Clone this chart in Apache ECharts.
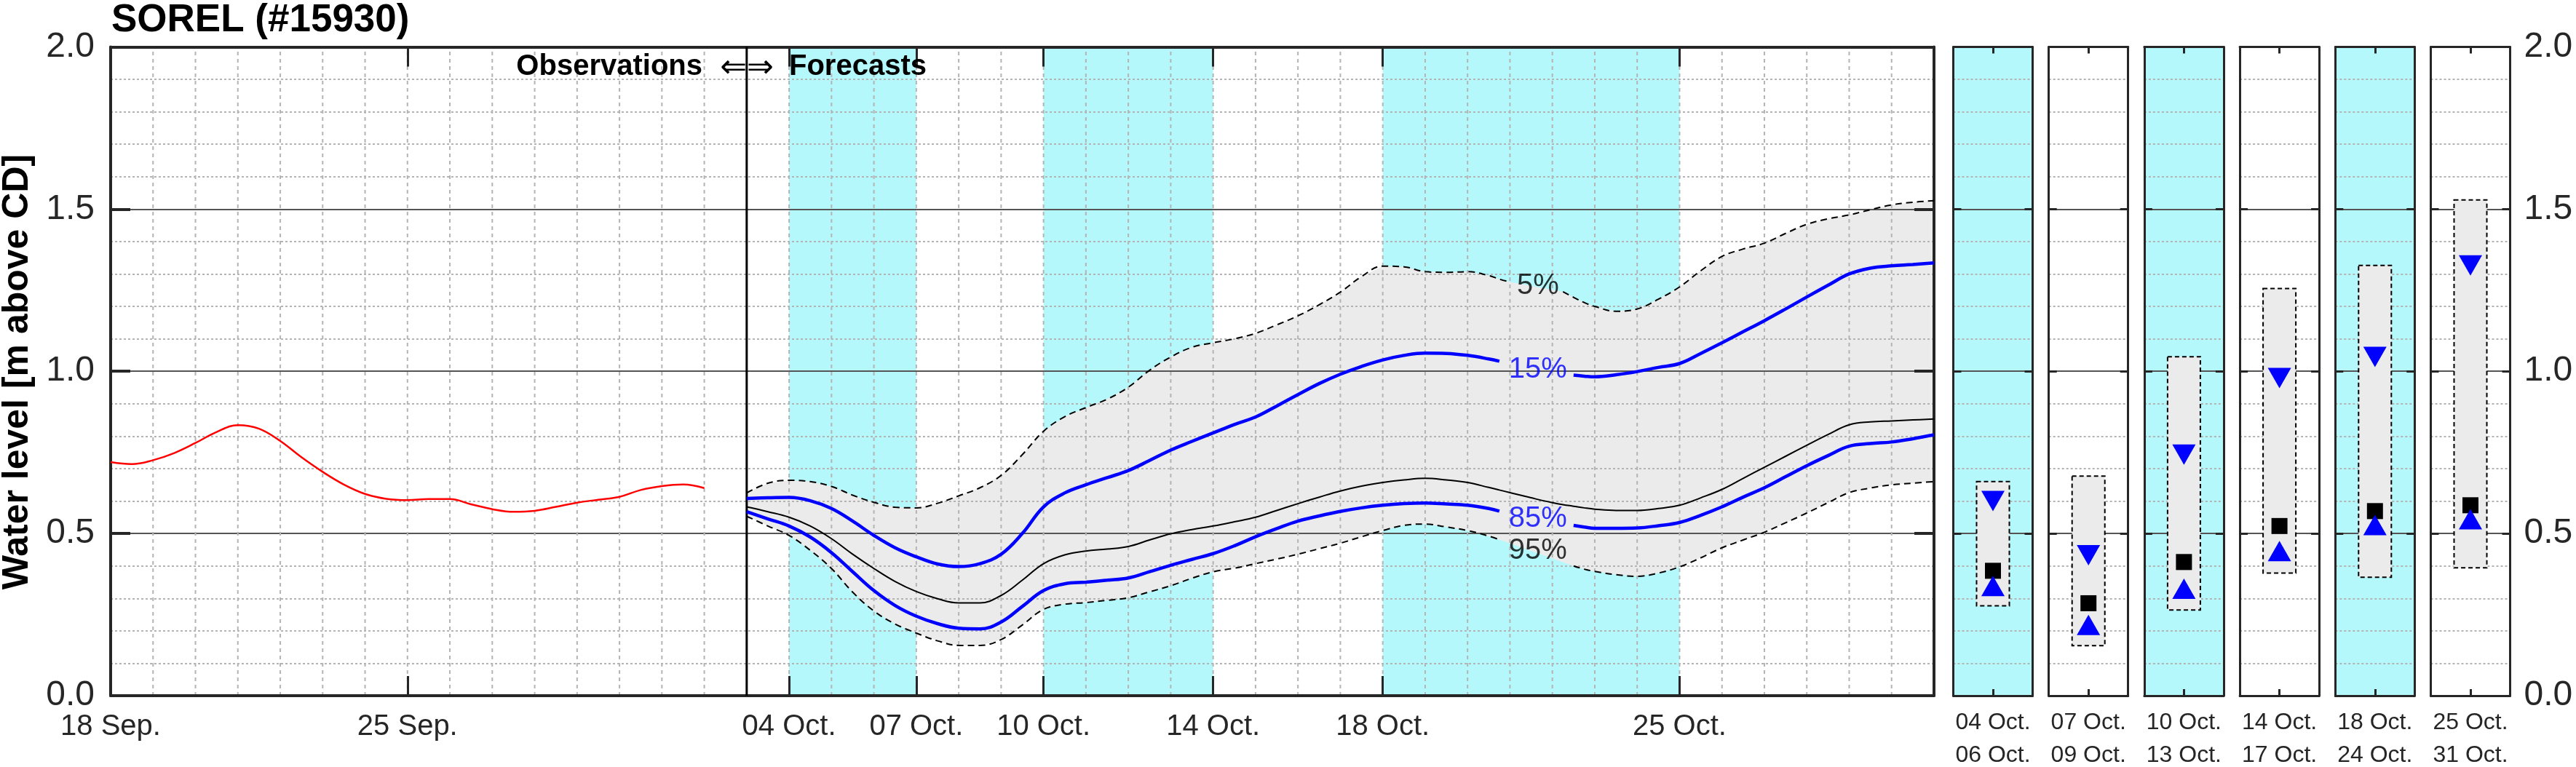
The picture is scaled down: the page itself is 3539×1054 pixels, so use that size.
<!DOCTYPE html>
<html>
<head>
<meta charset="utf-8">
<script src="https://cdn.jsdelivr.net/npm/echarts@6/dist/echarts.min.js"></script>
<style>html,body{margin:0;padding:0;background:#fff}#c{width:3539px;height:1054px}</style>
</head>
<body>
<div id="c"></div>
<script>
// ---------------- data ----------------
const TITLE = 'SOREL (#15930)';
const Y_NAME = 'Water level [m above CD]';
const NOTE_LEFT = 'Observations';
const NOTE_ARROW = '\u21D0\u21D2';
const NOTE_RIGHT = 'Forecasts';

// x = days since 18 Sep.
const X_MAX = 43;
const DATE_TICKS = [0, 7, 16, 19, 22, 26, 30, 37];
const DATE_LABELS = ['18 Sep.', '25 Sep.', '04 Oct.', '07 Oct.', '10 Oct.', '14 Oct.', '18 Oct.', '25 Oct.'];
const Y_TICKS = [0, 0.5, 1, 1.5, 2];
const FORECAST_START = 15;
const SHADE_BANDS = [[16, 19], [22, 26], [30, 37]];

const OBS_DAYS = [0,0.5,1,1.5,2,2.5,3,3.5,4,4.5,5,5.5,6,6.5,7,7.5,8,8.5,9,9.5,10,10.5,11,11.5,12,12.5,13,13.5,14];
const OBS_LEVEL = [0.720,0.714,0.726,0.748,0.779,0.813,0.834,0.823,0.785,0.735,
  0.690,0.651,0.622,0.607,0.603,0.606,0.606,0.590,0.575,0.567,
  0.570,0.582,0.595,0.604,0.613,0.634,0.646,0.651,0.640];

const FC_DAYS = [15,15.5,16,16.5,17,17.5,18,18.5,19,19.5,20,20.5,21,21.5,22,22.5,23,23.5,24,24.5,
  25,25.5,26,26.5,27,27.5,28,28.5,29,29.5,30,30.5,31,31.5,32,32.5,32.75,33,33.25,33.5,
  33.75,34,34.25,34.5,34.75,35,35.5,36,36.5,37,37.5,38,38.5,39,39.5,40,40.5,41,41.5,42,42.5,43];
const P05 = [0.625,0.655,0.664,0.660,0.645,0.618,0.596,0.581,0.579,0.593,
  0.616,0.641,0.679,0.743,0.815,0.860,0.888,0.914,0.951,1.003,
  1.044,1.074,1.088,1.100,1.117,1.143,1.171,1.205,1.244,1.292,
  1.324,1.322,1.307,1.305,1.307,1.295,1.284,1.275,null,null,
  null,null,1.245,1.228,1.212,1.200,1.185,1.192,1.222,1.260,
  1.310,1.354,1.377,1.395,1.425,1.453,1.470,1.482,1.498,1.513,
  1.521,1.526];
const P15 = [0.608,0.610,0.611,0.601,0.577,0.538,0.494,0.456,0.428,0.406,
  0.398,0.407,0.436,0.500,0.582,0.625,0.650,0.672,0.694,0.725,
  0.757,0.784,0.810,0.836,0.859,0.893,0.928,0.962,0.991,1.015,
  1.035,1.049,1.056,1.055,1.049,1.038,1.031,null,null,null,
  null,null,null,0.988,0.985,0.983,0.989,0.999,1.012,1.024,
  1.055,1.088,1.122,1.156,1.192,1.229,1.265,1.300,1.318,1.325,
  1.329,1.334];
const P50 = [0.582,0.567,0.550,0.523,0.484,0.436,0.392,0.352,0.321,0.299,
  0.286,0.286,0.309,0.356,0.407,0.434,0.446,0.452,0.460,0.480,
  0.499,0.512,0.523,0.536,0.550,0.571,0.592,0.612,0.631,0.646,
  0.657,0.665,0.670,0.665,0.657,0.642,0.634,0.626,0.618,0.610,
  0.602,0.595,0.589,0.584,0.579,0.575,0.571,0.571,0.577,0.587,
  0.610,0.636,0.670,0.704,0.738,0.772,0.805,0.835,0.844,0.847,
  0.850,0.853];
const P85 = [0.567,0.545,0.523,0.489,0.441,0.382,0.324,0.278,0.245,0.222,
  0.208,0.206,0.227,0.275,0.324,0.345,0.350,0.356,0.363,0.382,
  0.402,0.420,0.438,0.462,0.490,0.515,0.538,0.554,0.568,0.579,
  0.587,0.592,0.594,0.591,0.587,0.577,0.569,null,null,null,
  null,null,null,0.525,0.520,0.516,0.516,0.517,0.524,0.534,
  0.556,0.582,0.612,0.641,0.675,0.709,0.740,0.769,0.777,0.782,
  0.792,0.804];
const P95 = [0.553,0.523,0.494,0.448,0.392,0.319,0.261,0.221,0.193,0.169,
  0.155,0.155,0.173,0.218,0.266,0.282,0.287,0.294,0.302,0.320,
  0.339,0.362,0.382,0.393,0.407,0.421,0.436,0.453,0.470,0.490,
  0.509,0.525,0.529,0.520,0.509,0.492,0.481,null,null,null,
  null,null,null,0.400,0.390,0.383,0.373,0.368,0.378,0.397,
  0.425,0.456,0.480,0.504,0.533,0.563,0.595,0.626,0.640,0.650,
  0.655,0.660];

const PCT_LABELS = ['5%', '15%', '85%', '95%'];
const PCT_DAY = [33.66, 33.66, 33.66, 33.66];
const PCT_LEVEL = [1.263, 1.005, 0.545, 0.446];

const WIN_START = ['04 Oct.', '07 Oct.', '10 Oct.', '14 Oct.', '18 Oct.', '25 Oct.'];
const WIN_END = ['06 Oct.', '09 Oct.', '13 Oct.', '17 Oct.', '24 Oct.', '31 Oct.'];
const WIN_P05 = [0.660, 0.677, 1.045, 1.255, 1.326, 1.528];
const WIN_P15 = [0.600, 0.433, 0.743, 0.979, 1.044, 1.326];
const WIN_P50 = [0.385, 0.285, 0.412, 0.523, 0.569, 0.587];
const WIN_P85 = [0.338, 0.218, 0.330, 0.446, 0.526, 0.544];
const WIN_P95 = [0.277, 0.154, 0.264, 0.378, 0.365, 0.394];
const WIN_SHADED = [true, false, true, false, true, false];

// ---------------- styles / layout ----------------
const FONT = '"Liberation Sans", Arial, Helvetica, sans-serif';
const AX = '#262626';
const CYAN = '#b4f8fb';
const BAND = '#ebebeb';
const BLUE = '#0000ff';
const PCT_COLORS = ['#000000', BLUE, BLUE, '#000000'];
const MAIN = {left: 152, top: 64.4, width: 2505, height: 891.6};
const PANEL_LEFT0 = 2683.5, PANEL_STEP = 131.2, PANEL_W = 109;
const BOX_HALF = 0.413;
const MAJOR_SPLIT = {show: true, lineStyle: {color: '#555555', width: 2}};
const MINOR_SPLIT = {show: true, lineStyle: {color: '#b4b4b4', width: 2, type: [3, 3]}};

const pairs = (xs, ys) => xs.map((x, i) => [x, ys[i]]);

const grids = [Object.assign({outerBoundsMode: 'none', containLabel: false}, MAIN)];
WIN_START.forEach((s, i) => {
  grids.push({
    left: PANEL_LEFT0 + PANEL_STEP * i, top: MAIN.top, width: PANEL_W, height: MAIN.height,
    show: WIN_SHADED[i], backgroundColor: CYAN, borderWidth: 0,
    outerBoundsMode: 'none', containLabel: false
  });
});

const xAxes = [
  {gridIndex: 0, type: 'value', min: 0, max: X_MAX, position: 'bottom', z: 3,
   axisLine: {show: true, onZero: false, lineStyle: {color: AX, width: 4}},
   axisTick: {show: true, inside: true, length: 27, customValues: DATE_TICKS, lineStyle: {color: AX, width: 3}},
   axisLabel: {show: true, customValues: DATE_TICKS, margin: 23, fontSize: 40, color: AX, fontFamily: FONT,
     formatter: v => { const k = DATE_TICKS.indexOf(v); return k >= 0 ? DATE_LABELS[k] : ''; }},
   splitLine: {show: false}},
  {gridIndex: 0, type: 'value', min: 0, max: X_MAX, position: 'top', z: 3,
   axisLine: {show: true, onZero: false, lineStyle: {color: AX, width: 4}},
   axisTick: {show: true, inside: true, length: 27, customValues: DATE_TICKS, lineStyle: {color: AX, width: 3}},
   axisLabel: {show: false}, splitLine: {show: false}}
];
const yAxes = [
  {gridIndex: 0, type: 'value', min: 0, max: 2, interval: 0.5, position: 'left', z: 3,
   axisLine: {show: true, onZero: false, lineStyle: {color: AX, width: 4}},
   axisTick: {show: true, inside: true, length: 27, lineStyle: {color: AX, width: 4}},
   axisLabel: {show: true, margin: 22, fontSize: 48, color: AX, fontFamily: FONT, formatter: v => v.toFixed(1)},
   splitLine: MAJOR_SPLIT, minorTick: {show: false, splitNumber: 5}, minorSplitLine: MINOR_SPLIT},
  {gridIndex: 0, type: 'value', min: 0, max: 2, interval: 0.5, position: 'right', z: 3,
   axisLine: {show: true, onZero: false, lineStyle: {color: AX, width: 4}},
   axisTick: {show: true, inside: true, length: 27, lineStyle: {color: AX, width: 4}},
   axisLabel: {show: false}, splitLine: {show: false}}
];
WIN_START.forEach((s, i) => {
  const g = i + 1;
  xAxes.push(
    {gridIndex: g, type: 'value', min: 0, max: 2, position: 'bottom', z: 3,
     axisLine: {show: true, onZero: false, lineStyle: {color: AX, width: 3}},
     axisTick: {show: true, inside: true, length: 9, customValues: [1], lineStyle: {color: AX, width: 3}},
     axisLabel: {show: true, customValues: [1], margin: 15, fontSize: 32, lineHeight: 45, color: AX, fontFamily: FONT,
       formatter: () => WIN_START[i] + '\n' + WIN_END[i]},
     splitLine: {show: false}},
    {gridIndex: g, type: 'value', min: 0, max: 2, position: 'top', z: 3,
     axisLine: {show: true, onZero: false, lineStyle: {color: AX, width: 3}},
     axisTick: {show: true, inside: true, length: 9, customValues: [1], lineStyle: {color: AX, width: 3}},
     axisLabel: {show: false}, splitLine: {show: false}}
  );
  yAxes.push(
    {gridIndex: g, type: 'value', min: 0, max: 2, interval: 0.5, position: 'left', z: 3,
     axisLine: {show: true, onZero: false, lineStyle: {color: AX, width: 3}},
     axisTick: {show: true, inside: true, length: 11, lineStyle: {color: AX, width: 3}},
     axisLabel: {show: false},
     splitLine: MAJOR_SPLIT, minorTick: {show: false, splitNumber: 5}, minorSplitLine: MINOR_SPLIT},
    {gridIndex: g, type: 'value', min: 0, max: 2, interval: 0.5, position: 'right', z: 3,
     axisLine: {show: true, onZero: false, lineStyle: {color: AX, width: 3}},
     axisTick: {show: true, inside: true, length: 11, lineStyle: {color: AX, width: 3}},
     axisLabel: {show: i === WIN_START.length - 1, margin: 19, fontSize: 48, color: AX, fontFamily: FONT,
       formatter: v => v.toFixed(1)},
     splitLine: {show: false}}
  );
});

const dayGrid = [];
for (let d = 1; d < X_MAX; d++) dayGrid.push([d, 0]);

const series = [
  // shaded day bands
  {type: 'custom', xAxisIndex: 0, yAxisIndex: 0, z: 1, silent: true, data: SHADE_BANDS,
   renderItem: (p, api) => {
     const a = api.coord([api.value(0), 2]), b = api.coord([api.value(1), 0]);
     return {type: 'rect', shape: {x: a[0], y: a[1], width: b[0] - a[0], height: b[1] - a[1]}, style: {fill: CYAN}};
   }},
  // 5%-95% envelope
  {type: 'custom', xAxisIndex: 0, yAxisIndex: 0, z: 2, silent: true, data: [[FORECAST_START, 0]],
   renderItem: (p, api) => {
     const up = [], lo = [];
     FC_DAYS.forEach((d, i) => {
       if (P05[i] != null) up.push(api.coord([d, P05[i]]));
       if (P95[i] != null) lo.push(api.coord([d, P95[i]]));
     });
     return {type: 'polygon', shape: {points: up.concat(lo.reverse())}, style: {fill: BAND}};
   }},
  // daily vertical grid
  {type: 'custom', xAxisIndex: 0, yAxisIndex: 0, z: 3, silent: true, data: dayGrid,
   renderItem: (p, api) => {
     const a = api.coord([api.value(0), 0]), b = api.coord([api.value(0), 2]);
     return {type: 'line', shape: {x1: a[0], y1: a[1], x2: b[0], y2: b[1]},
       style: {stroke: '#b4b4b4', lineWidth: 2, lineDash: [5, 5]}};
   }},
  // observation / forecast separator
  {type: 'custom', xAxisIndex: 0, yAxisIndex: 0, z: 4, silent: true, data: [[FORECAST_START, 0]],
   renderItem: (p, api) => {
     const a = api.coord([api.value(0), 0]), b = api.coord([api.value(0), 2]);
     return {type: 'line', shape: {x1: a[0], y1: a[1], x2: b[0], y2: b[1]}, style: {stroke: '#000', lineWidth: 3}};
   }},
  {type: 'line', name: 'obs', xAxisIndex: 0, yAxisIndex: 0, z: 5, data: pairs(OBS_DAYS, OBS_LEVEL),
   showSymbol: false, smooth: 0.4, silent: true, lineStyle: {color: '#ff0000', width: 2.5}},
  {type: 'line', name: 'p05', xAxisIndex: 0, yAxisIndex: 0, z: 5, data: pairs(FC_DAYS, P05),
   showSymbol: false, smooth: 0.4, silent: true, connectNulls: false, lineStyle: {color: '#000', width: 2, type: [9, 6]}},
  {type: 'line', name: 'p95', xAxisIndex: 0, yAxisIndex: 0, z: 5, data: pairs(FC_DAYS, P95),
   showSymbol: false, smooth: 0.4, silent: true, connectNulls: false, lineStyle: {color: '#000', width: 2, type: [9, 6]}},
  {type: 'line', name: 'p50', xAxisIndex: 0, yAxisIndex: 0, z: 5, data: pairs(FC_DAYS, P50),
   showSymbol: false, smooth: 0.4, silent: true, lineStyle: {color: '#000', width: 2}},
  {type: 'line', name: 'p15', xAxisIndex: 0, yAxisIndex: 0, z: 6, data: pairs(FC_DAYS, P15),
   showSymbol: false, smooth: 0.4, silent: true, connectNulls: false, lineStyle: {color: BLUE, width: 4.5}},
  {type: 'line', name: 'p85', xAxisIndex: 0, yAxisIndex: 0, z: 6, data: pairs(FC_DAYS, P85),
   showSymbol: false, smooth: 0.4, silent: true, connectNulls: false, lineStyle: {color: BLUE, width: 4.5}},
  {type: 'scatter', xAxisIndex: 0, yAxisIndex: 0, z: 7, silent: true, symbolSize: 1,
   itemStyle: {color: 'rgba(0,0,0,0)'},
   data: PCT_LABELS.map((t, i) => ({value: [PCT_DAY[i], PCT_LEVEL[i]], name: t, label: {color: PCT_COLORS[i]}})),
   label: {show: true, position: 'inside', formatter: q => q.name, fontSize: 40, fontFamily: FONT}}
];

WIN_START.forEach((s, i) => {
  const xi = 2 + 2 * i, yi = 2 + 2 * i;
  series.push(
    {type: 'custom', xAxisIndex: xi, yAxisIndex: yi, z: 4, silent: true, data: [[1, WIN_P05[i], WIN_P95[i]]],
     renderItem: (p, api) => {
       const a = api.coord([1 - BOX_HALF, api.value(1)]), b = api.coord([1 + BOX_HALF, api.value(2)]);
       return {type: 'rect', shape: {x: a[0], y: a[1], width: b[0] - a[0], height: b[1] - a[1]},
         style: {fill: BAND, stroke: '#000', lineWidth: 2, lineDash: [6, 4]}};
     }},
    {type: 'scatter', xAxisIndex: xi, yAxisIndex: yi, z: 5, silent: true, symbol: 'rect', symbolSize: 22,
     itemStyle: {color: '#000', opacity: 1}, data: [[1, WIN_P50[i]]]},
    {type: 'scatter', xAxisIndex: xi, yAxisIndex: yi, z: 6, silent: true, symbol: 'triangle', symbolRotate: 180,
     symbolSize: [32, 28], itemStyle: {color: BLUE, opacity: 1}, data: [[1, WIN_P15[i]]]},
    {type: 'scatter', xAxisIndex: xi, yAxisIndex: yi, z: 6, silent: true, symbol: 'triangle',
     symbolSize: [32, 28], itemStyle: {color: BLUE, opacity: 1}, data: [[1, WIN_P85[i]]]}
  );
});

const option = {
  animation: false,
  backgroundColor: '#ffffff',
  textStyle: {fontFamily: FONT},
  grid: grids,
  xAxis: xAxes,
  yAxis: yAxes,
  series: series,
  graphic: [
    {type: 'text', x: 153, y: 28, silent: true,
     style: {text: TITLE, fontSize: 53, fontWeight: 'bold', fontFamily: FONT, fill: '#000', align: 'left', verticalAlign: 'middle'}},
    {type: 'text', x: 24, y: 511, rotation: Math.PI / 2, silent: true,
     style: {text: Y_NAME, fontSize: 50, fontWeight: 'bold', fontFamily: FONT, fill: '#000', align: 'center', verticalAlign: 'middle'}},
    {type: 'text', x: 965, y: 92, silent: true, z: 50,
     style: {text: NOTE_LEFT, fontSize: 40, fontWeight: 'bold', fontFamily: FONT, fill: '#000', align: 'right', verticalAlign: 'middle'}},
    {type: 'text', x: 1026, y: 95, silent: true, z: 50,
     style: {text: NOTE_ARROW, fontSize: 44, fontFamily: '"DejaVu Sans", sans-serif', fill: '#000', align: 'center', verticalAlign: 'middle'}},
    {type: 'text', x: 1084, y: 92, silent: true, z: 50,
     style: {text: NOTE_RIGHT, fontSize: 40, fontWeight: 'bold', fontFamily: FONT, fill: '#000', align: 'left', verticalAlign: 'middle'}}
  ]
};

const chart = echarts.init(document.getElementById('c'), null, {renderer: 'canvas', width: 3539, height: 1054});
chart.setOption(option);
</script>
</body>
</html>
